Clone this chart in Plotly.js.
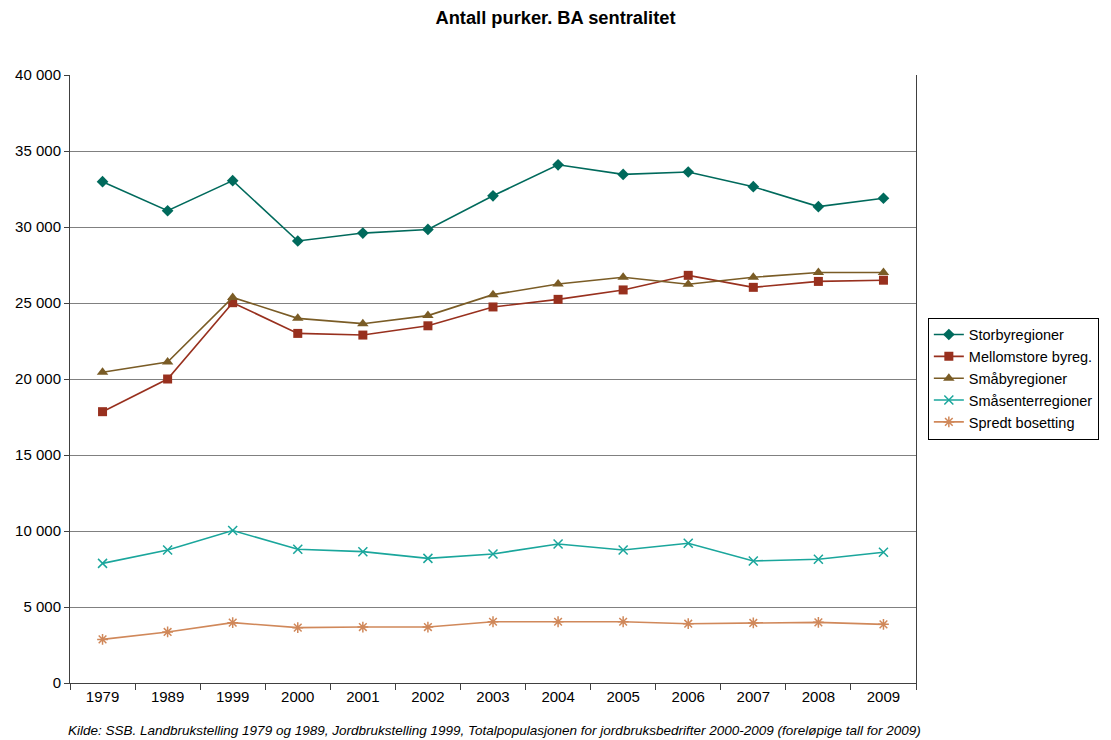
<!DOCTYPE html>
<html>
<head>
<meta charset="utf-8">
<script src="https://cdn.plot.ly/plotly-3.0.1.min.js"></script>
<style>html,body{margin:0;padding:0;background:#fff;}#chart{width:1111px;height:740px;}</style>
</head>
<body>
<div id="chart"></div>
<script>
const years = ["1979","1989","1999","2000","2001","2002","2003","2004","2005","2006","2007","2008","2009"];
const storby = [32980,31070,33050,29080,29600,29840,32050,34090,33460,33620,32650,31340,31890];
const mellomstore = [17850,20000,25020,23000,22890,23500,24740,25240,25860,26820,26030,26420,26500];
const smaby = [20440,21120,25370,23990,23640,24170,25550,26250,26690,26230,26690,27010,27010];
const smasenter = [7870,8750,10030,8800,8640,8200,8490,9140,8750,9190,8030,8140,8600];
const spredt = [2870,3360,3970,3640,3680,3680,4030,4030,4030,3900,3950,3990,3860];
const seriesNames = ["Storbyregioner","Mellomstore byreg.","Småbyregioner","Småsenterregioner","Spredt bosetting"];
const yTicks = [0,5000,10000,15000,20000,25000,30000,35000,40000];

const colors = ["#006a5c","#98301e","#7a5c26","#1aa69c","#d0885a"];
const symbols = ["diamond","square","triangle-up","x-thin-open","asterisk-open"];
const sizes = [9,9,10,9,9];
const data = [storby, mellomstore, smaby, smasenter, spredt];

const traces = data.map((vals, i) => ({
  type: "scatter",
  mode: "lines+markers",
  name: seriesNames[i],
  x: years,
  y: vals,
  line: {color: colors[i], width: 1.6},
  marker: {
    symbol: symbols[i],
    size: sizes[i],
    color: colors[i],
    line: {color: colors[i], width: (i >= 3 ? 1.5 : 0)}
  }
}));

const layout = {
  width: 1111,
  height: 740,
  paper_bgcolor: "#ffffff",
  plot_bgcolor: "#ffffff",
  separators: ", ",
  font: {family: "Liberation Sans, Arial, sans-serif", size: 15, color: "#000"},
  title: {
    text: "<b>Antall purker. BA sentralitet</b>",
    font: {family: "Liberation Sans, Arial, sans-serif", size: 18.3, color: "#000"},
    x: 0.5, xanchor: "center", y: 0.976, yanchor: "middle"
  },
  margin: {l: 70, r: 195, t: 75, b: 57},
  xaxis: {
    type: "category",
    showgrid: false,
    showline: true,
    linecolor: "#404040",
    linewidth: 1,
    ticks: "outside",
    tickson: "boundaries",
    ticklen: 6,
    tickcolor: "#404040",
    tickfont: {size: 15},
    zeroline: false,
    range: [-0.5, 12.5]
  },
  yaxis: {
    range: [0, 40000],
    tickvals: yTicks,
    tickformat: ",d",
    showgrid: true,
    gridcolor: "#808080",
    gridwidth: 1,
    showline: true,
    linecolor: "#404040",
    linewidth: 1,
    mirror: true,
    ticks: "outside",
    ticklen: 5,
    tickcolor: "#404040",
    tickfont: {size: 15},
    zeroline: false
  },
  legend: {
    x: 1.014, xanchor: "left",
    y: 0.601, yanchor: "top",
    bordercolor: "#000",
    borderwidth: 1,
    bgcolor: "#fff",
    font: {size: 14.5},
    tracegroupgap: 0,
    itemwidth: 30
  },
  showlegend: true,
  annotations: [{
    text: "<i>Kilde: SSB. Landbrukstelling 1979 og 1989, Jordbrukstelling 1999, Totalpopulasjonen for jordbruksbedrifter 2000-2009 (foreløpige tall for 2009)</i>",
    xref: "paper", yref: "paper",
    x: -0.005, xanchor: "left",
    y: -0.078, yanchor: "middle",
    showarrow: false,
    font: {size: 13.5, color: "#000"}
  }]
};

Plotly.newPlot("chart", traces, layout, {displayModeBar: false, staticPlot: true});
</script>
</body>
</html>
